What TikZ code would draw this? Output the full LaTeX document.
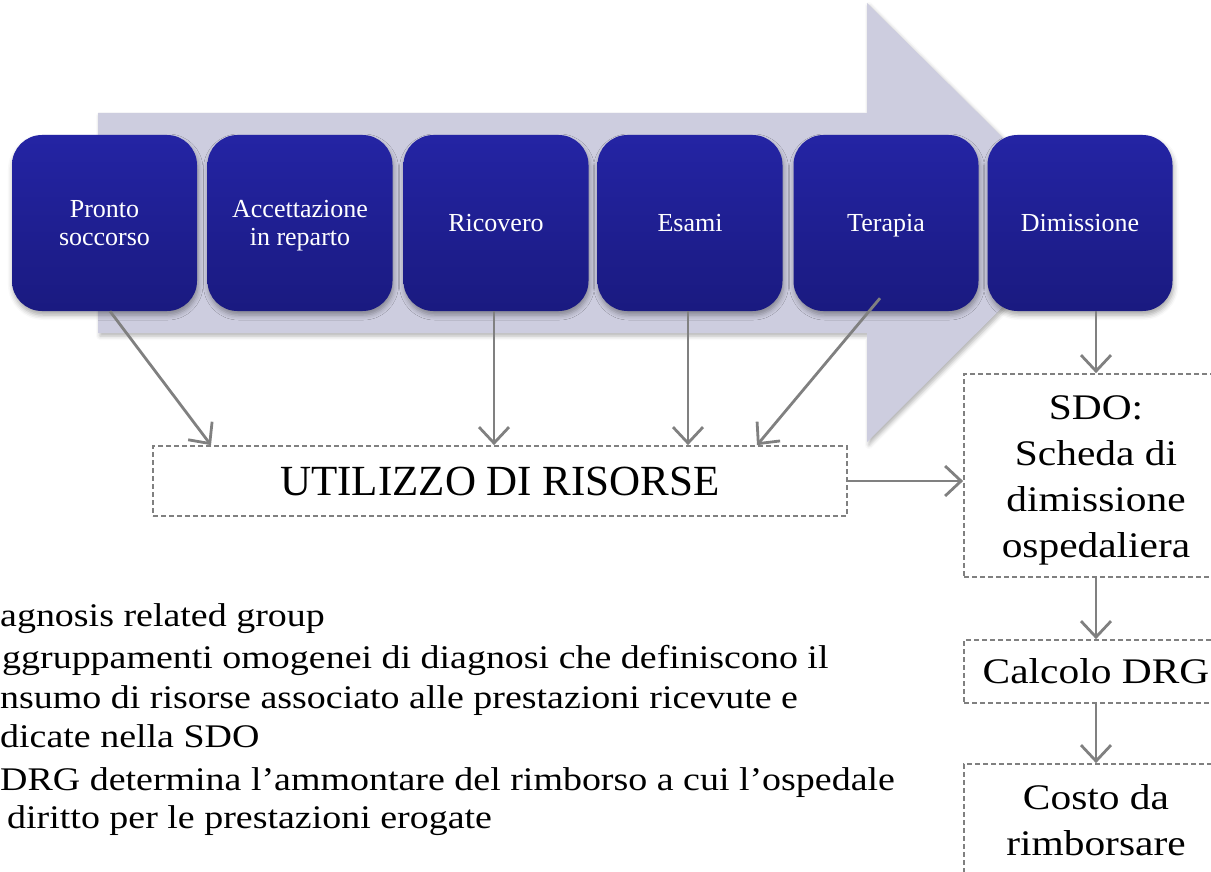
\documentclass[tikz,border=0pt]{standalone}
\usepackage{fontspec}
\setmainfont{Liberation Serif}
\newfontfamily\palfont[FakeStretch=1.15]{Liberation Serif}
\usetikzlibrary{arrows.meta,shadows.blur,calc}
\definecolor{arrowfill}{HTML}{CDCDDF}
\definecolor{boxtop}{HTML}{2424A4}
\definecolor{boxbot}{HTML}{1A1A80}
\definecolor{linegray}{HTML}{808080}
\begin{document}
\begin{tikzpicture}[x=1pt,y=-1pt,
  stepbox/.style={rounded corners=30pt, top color=boxtop, bottom color=boxbot,
    minimum width=185pt, minimum height=176pt, text=white, text depth=0pt,
    font=\fontsize{26}{28}\selectfont, align=center, inner sep=0pt,
    blur shadow={shadow xshift=1pt,shadow yshift=-4pt,shadow blur radius=5pt,shadow opacity=35}},
  dbox/.style={draw=linegray, dash pattern=on 5pt off 3pt, line width=1.7pt,
    align=center, inner sep=0pt},
  rbox/.style={dbox, minimum width=264pt, font=\palfont\fontsize{36}{46}\selectfont},
  conn/.style={draw=linegray, line width=2.8pt,
    -{Straight Barb[length=16pt,width=30pt,line width=2.8pt]}},
  lowtext/.style={anchor=base west, inner sep=0pt, font=\palfont\fontsize{33}{40}\selectfont}
]
\useasboundingbox (0,0) rectangle (1211,872);
\clip (0,0) rectangle (1211,872);
% big arrow
\fill[arrowfill, blur shadow={shadow xshift=2pt,shadow yshift=-3pt,shadow blur radius=4pt,shadow opacity=30}]
  (98,113) -- (867,113) -- (867,3) -- (1088,222) -- (867,442) -- (867,333) -- (98,333) -- cycle;
% process boxes
\node[stepbox] (b1) at (104.5,223) {Pronto\\soccorso};
\node[stepbox] (b2) at (300,223) {Accettazione\\in reparto};
\node[stepbox] (b3) at (496,223) {Ricovero};
\node[stepbox] (b4) at (690,223) {Esami};
\node[stepbox] (b5) at (886,223) {Terapia};
\node[stepbox] (b6) at (1080,223) {Dimissione};
% dashed boxes
\node[dbox, minimum width=694pt, minimum height=70pt, font=\fontsize{43}{48}\selectfont] (util) at (500,481) {UTILIZZO DI RISORSE};
\node[rbox, minimum height=203pt] (sdo) at (1096,475.5) {\raisebox{-4pt}[\height][\depth]{\begin{tabular}{@{}c@{}}SDO:\\Scheda di\\dimissione\\ospedaliera\end{tabular}}};
\node[rbox, minimum height=63pt] (calc) at (1096,671.5) {Calcolo DRG};
\node[rbox, minimum height=112pt] (costo) at (1096,820) {Costo da\\rimborsare};
% connectors
\draw[conn] (b1.south -| 110,0) -- (util.north -| 211,0);
\draw[conn] (b3.south -| 494,0) -- (util.north -| 494,0);
\draw[conn] (b4.south -| 688,0) -- (util.north -| 688,0);
\draw[conn] ([yshift=13pt]b5.south -| 880,0) -- (util.north -| 757,0);
\draw[conn] (b6.south -| sdo.north) -- (sdo.north);
\draw[conn] (util.east) -- (sdo.west |- util.east);
\draw[conn] (sdo.south) -- (calc.north);
\draw[conn] (calc.south) -- (costo.north);
% lower text
\node[lowtext] (t1) at (0,626) {agnosis related group};
\node[lowtext] (t2) at (2,668) {ggruppamenti omogenei di diagnosi che definiscono il};
\node[lowtext] (t3) at (0,708) {nsumo di risorse associato alle prestazioni ricevute e};
\node[lowtext] (t4) at (0,747) {dicate nella SDO};
\node[lowtext] (t5) at (0,790) {DRG determina l’ammontare del rimborso a cui l’ospedale};
\node[lowtext] (t6) at (7,828) {diritto per le prestazioni erogate};
\end{tikzpicture}
\end{document}
